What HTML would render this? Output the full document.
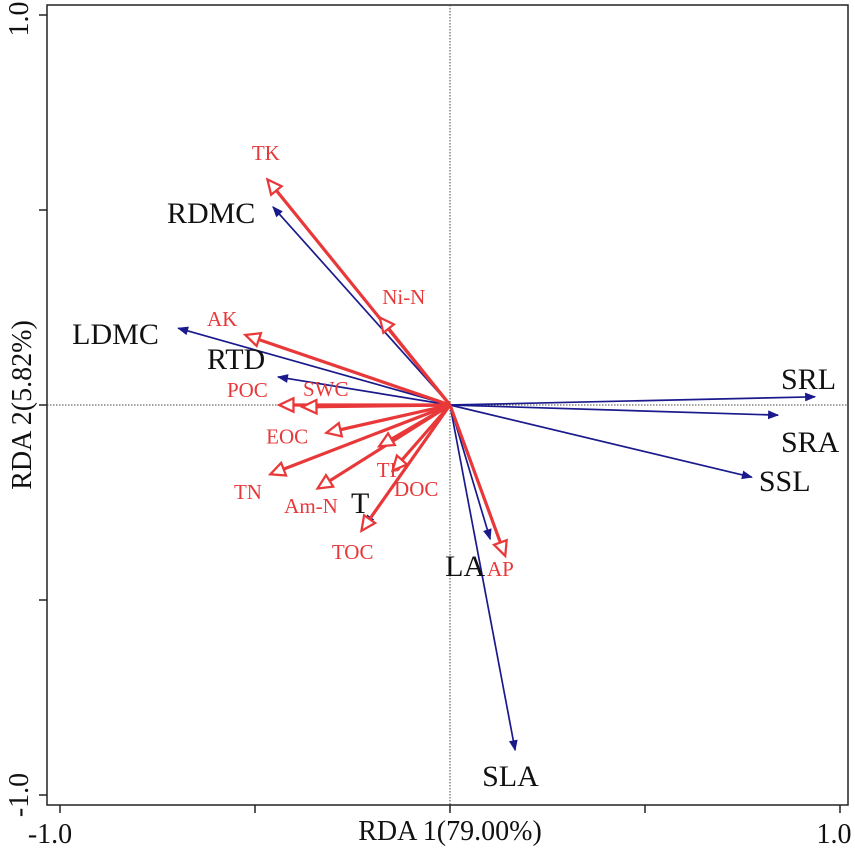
<!DOCTYPE html>
<html><head><meta charset="utf-8"><style>
html,body{margin:0;padding:0;background:#fff;}
svg{display:block;font-family:"Liberation Serif",serif;}
</style></head><body>
<svg id="chart" width="855" height="854" viewBox="0 0 855 854" xmlns="http://www.w3.org/2000/svg">
<defs>
<marker id="bh" viewBox="0 0 10 10" refX="9" refY="5" markerWidth="13" markerHeight="11" markerUnits="userSpaceOnUse" orient="auto"><path d="M0,1 L10,5 L0,9 Z" fill="#1a1a8c"/></marker>
<marker id="rh" viewBox="0 0 12 12" refX="10" refY="6" markerWidth="18" markerHeight="18" markerUnits="userSpaceOnUse" orient="auto"><path d="M1,1.5 L10.5,6 L1,10.5 Z" fill="#fff" stroke="#e8383a" stroke-width="1.5"/></marker>
</defs>
<rect x="47" y="5" width="801" height="800" fill="none" stroke="#222" stroke-width="1.5"/>
<g id="g"></g>
</svg>
<script>
const blueNames=["RDMC","LDMC","RTD","SRL","SRA","SSL","SLA","LA","T"];
const blueX=[-0.454,-0.697,-0.441,0.936,0.841,0.774,0.167,0.103,-0.218];
const blueY=[0.508,0.197,0.072,0.021,-0.026,-0.185,-0.885,-0.344,-0.308];
const redNames=["TK","Ni-N","AK","POC","SWC","EOC","TN","Am-N","TP","DOC","TOC","AP"];
const redX=[-0.467,-0.179,-0.523,-0.436,-0.377,-0.315,-0.459,-0.338,-0.18,-0.146,-0.226,0.141];
const redY=[0.577,0.223,0.179,0.0,-0.005,-0.071,-0.177,-0.213,-0.105,-0.167,-0.321,-0.385];
const tickVals=[-1,-0.5,0,0.5,1];
const tickLabels=["-1.0","","","","1.0"];

const X0=450,Y0=405,S=390;
const sx=v=>X0+v*S, sy=v=>Y0-v*S;
const blueOff=[[-106,16],[-106,16],[-71,-8],[-34,-8],[3,37],[7,14],[-33,36],[-45,37],[-14,-12]];
const redOff=[[-16,-20],[2,-14],[-39,-9],[-53,-8],[0,-11],[-61,11],[-37,25],[-34,25],[-3,31],[1,26],[-30,29],[-18,21]];
const g=document.getElementById('g');
const NS="http://www.w3.org/2000/svg";
function mk(t,a){const e=document.createElementNS(NS,t);for(const k in a)e.setAttribute(k,a[k]);g.appendChild(e);return e;}
let e=mk('line',{x1:47,x2:848,y1:sy(0),y2:sy(0),stroke:'#444','stroke-width':1,'stroke-dasharray':'1.5,1.5'});


e=mk('line',{x1:sx(0),x2:sx(0),y1:5,y2:805,stroke:'#444','stroke-width':1,'stroke-dasharray':'1.5,1.5'});


tickVals.forEach((v,i)=>{
 let t=mk('line',{x1:sx(v),x2:sx(v),y1:805,y2:813,stroke:'#222','stroke-width':1.5});
 
 
 t=mk('line',{x1:39,x2:47,y1:sy(v),y2:sy(v),stroke:'#222','stroke-width':1.5});
 
 
 if(tickLabels[i]){
  let l=mk('text',{x:sx(v)-(v<0?10:6),y:843,'font-size':28,'text-anchor':'middle',fill:'#111'});l.textContent=tickLabels[i];
  
  
  l=mk('text',{x:0,y:0,'font-size':28,'text-anchor':'middle',fill:'#111',transform:`translate(28,${sy(v)-(v>0?-4:0)}) rotate(-90)`});l.textContent=tickLabels[i];
  
  
 }
});
let at=mk('text',{x:450,y:840,'font-size':28,'text-anchor':'middle',fill:'#111'});at.textContent='RDA 1(79.00%)';


at=mk('text',{x:0,y:0,'font-size':28,'text-anchor':'middle',fill:'#111',transform:'translate(31,405) rotate(-90)'});at.textContent='RDA 2(5.82%)';


blueNames.forEach((n,i)=>{
 const x=sx(blueX[i]),y=sy(blueY[i]);
 const a=mk('line',{x1:X0,y1:Y0,x2:x,y2:y,stroke:'#1a1a8c','stroke-width':1.7,'marker-end':'url(#bh)'});
 
 
 const l=mk('text',{x:x+blueOff[i][0],y:y+blueOff[i][1],'font-size':30,fill:'#111'});l.textContent=n;
 
 
});
redNames.forEach((n,i)=>{
 const x=sx(redX[i]),y=sy(redY[i]);
 const a=mk('line',{x1:X0,y1:Y0,x2:x,y2:y,stroke:'#e8383a','stroke-width':3.2,'marker-end':'url(#rh)'});
 
 
 const l=mk('text',{x:x+redOff[i][0],y:y+redOff[i][1],'font-size':21,fill:'#e8383a'});l.textContent=n;
 
 
});
</script>
</body></html>
